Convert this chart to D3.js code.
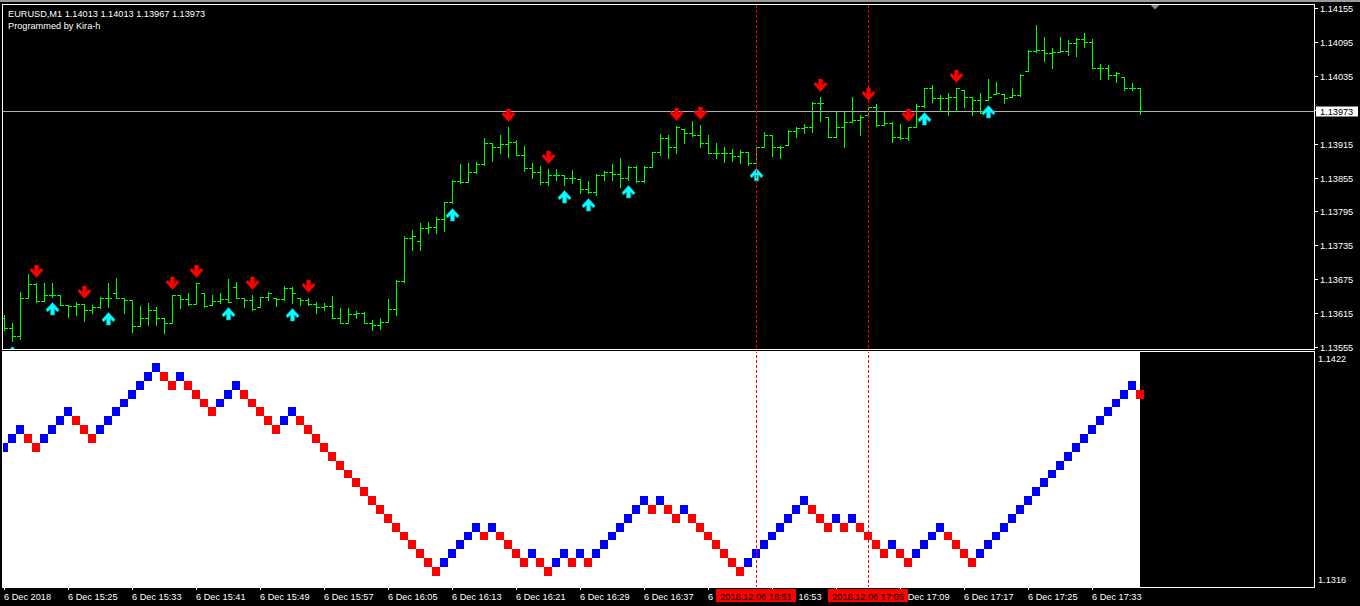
<!DOCTYPE html>
<html><head><meta charset="utf-8">
<script src="https://cdn.jsdelivr.net/npm/d3@7"></script>
<style>html,body{margin:0;padding:0;background:#000;overflow:hidden}svg{display:block}</style>
</head><body><svg id="c" width="1360" height="606"></svg>
<script>
// ---------- DATA ----------
const symbolTitle = "EURUSD,M1  1.14013 1.14013 1.13967 1.13973";
const subTitle = "Programmed by Kira-h";
const opens = [1.13606,1.13588,1.13574,1.13641,1.13666,1.13636,1.13647,1.13647,1.13629,1.13627,1.13631,1.13620,1.13626,1.13641,1.13650,1.13641,1.13638,1.13592,1.13606,1.13620,
1.13606,1.13597,1.13647,1.13640,1.13631,1.13650,1.13629,1.13636,1.13640,1.13660,1.13641,1.13638,1.13626,1.13643,1.13641,1.13640,1.13659,1.13641,1.13638,1.13631,
1.13626,1.13627,1.13606,1.13597,1.13613,1.13615,1.13597,1.13594,1.13599,1.13622,1.13672,1.13748,1.13742,1.13765,1.13767,1.13781,1.13811,1.13849,1.13847,1.13865,
1.13879,1.13916,1.13909,1.13914,1.13918,1.13895,1.13872,1.13865,1.13847,1.13859,1.13859,1.13854,1.13852,1.13834,1.13829,1.13859,1.13865,1.13861,1.13854,1.13873,
1.13849,1.13873,1.13900,1.13925,1.13909,1.13941,1.13934,1.13930,1.13916,1.13898,1.13898,1.13898,1.13893,1.13900,1.13880,1.13909,1.13930,1.13909,1.13912,1.13937,
1.13942,1.13944,1.13987,1.13962,1.13927,1.13944,1.13953,1.13957,1.13965,1.13980,1.13948,1.13951,1.13927,1.13925,1.13944,1.13981,1.14013,1.13996,1.13996,1.13997,
1.14011,1.13997,1.13992,1.13992,1.14003,1.14003,1.13997,1.14001,1.14043,1.14079,1.14081,1.14075,1.14077,1.14079,1.14093,1.14100,1.14096,1.14049,1.14049,1.14036,
1.14033,1.14013,1.14013];
const highs = [1.13611,1.13597,1.13652,1.13684,1.13668,1.13668,1.13668,1.13647,1.13629,1.13634,1.13631,1.13629,1.13643,1.13668,1.13677,1.13641,1.13638,1.13627,1.13633,1.13626,
1.13606,1.13647,1.13647,1.13650,1.13668,1.13650,1.13647,1.13650,1.13675,1.13670,1.13641,1.13647,1.13643,1.13652,1.13641,1.13663,1.13661,1.13641,1.13641,1.13634,
1.13633,1.13645,1.13624,1.13624,1.13618,1.13617,1.13603,1.13606,1.13640,1.13673,1.13751,1.13762,1.13774,1.13776,1.13785,1.13811,1.13850,1.13879,1.13880,1.13882,
1.13925,1.13916,1.13930,1.13944,1.13921,1.13911,1.13880,1.13875,1.13870,1.13870,1.13859,1.13868,1.13852,1.13849,1.13861,1.13866,1.13879,1.13889,1.13875,1.13875,
1.13875,1.13900,1.13932,1.13930,1.13946,1.13941,1.13955,1.13948,1.13930,1.13916,1.13909,1.13905,1.13903,1.13900,1.13909,1.13935,1.13930,1.13911,1.13939,1.13944,
1.13950,1.13988,1.13997,1.13962,1.13971,1.13971,1.13997,1.13965,1.13981,1.13985,1.13971,1.13953,1.13950,1.13944,1.13985,1.14013,1.14019,1.14001,1.14004,1.14013,
1.14011,1.13997,1.14004,1.14029,1.14024,1.14003,1.14013,1.14038,1.14081,1.14125,1.14104,1.14084,1.14104,1.14098,1.14102,1.14112,1.14100,1.14057,1.14054,1.14042,
1.14033,1.14022,1.14013];
const lows = [1.13585,1.13565,1.13569,1.13641,1.13634,1.13636,1.13643,1.13629,1.13608,1.13611,1.13601,1.13615,1.13624,1.13626,1.13641,1.13615,1.13581,1.13592,1.13594,1.13594,
1.13580,1.13597,1.13624,1.13629,1.13631,1.13626,1.13629,1.13633,1.13634,1.13641,1.13626,1.13620,1.13626,1.13638,1.13627,1.13638,1.13633,1.13629,1.13629,1.13615,
1.13620,1.13606,1.13597,1.13597,1.13606,1.13597,1.13585,1.13587,1.13599,1.13611,1.13670,1.13727,1.13727,1.13757,1.13757,1.13760,1.13810,1.13845,1.13847,1.13863,
1.13877,1.13884,1.13898,1.13891,1.13895,1.13866,1.13854,1.13843,1.13841,1.13850,1.13841,1.13845,1.13827,1.13827,1.13824,1.13850,1.13850,1.13838,1.13850,1.13847,
1.13847,1.13873,1.13895,1.13889,1.13898,1.13916,1.13928,1.13909,1.13898,1.13889,1.13882,1.13884,1.13880,1.13877,1.13880,1.13909,1.13893,1.13889,1.13912,1.13927,
1.13934,1.13935,1.13955,1.13927,1.13927,1.13909,1.13953,1.13930,1.13965,1.13946,1.13948,1.13918,1.13923,1.13921,1.13944,1.13980,1.13988,1.13973,1.13965,1.13973,
1.13980,1.13965,1.13969,1.13992,1.14003,1.13987,1.13997,1.13999,1.14043,1.14077,1.14061,1.14050,1.14077,1.14073,1.14070,1.14086,1.14049,1.14029,1.14029,1.14024,
1.14011,1.14010,1.13967];
const closes = [1.13588,1.13574,1.13641,1.13666,1.13636,1.13647,1.13647,1.13629,1.13627,1.13631,1.13620,1.13626,1.13641,1.13641,1.13641,1.13638,1.13592,1.13606,1.13620,1.13606,
1.13597,1.13647,1.13640,1.13631,1.13668,1.13627,1.13636,1.13640,1.13634,1.13641,1.13638,1.13622,1.13643,1.13650,1.13640,1.13659,1.13650,1.13638,1.13631,1.13626,
1.13627,1.13606,1.13597,1.13613,1.13615,1.13597,1.13594,1.13599,1.13622,1.13672,1.13748,1.13751,1.13765,1.13767,1.13781,1.13811,1.13849,1.13847,1.13865,1.13879,
1.13916,1.13909,1.13914,1.13918,1.13895,1.13872,1.13865,1.13847,1.13859,1.13859,1.13854,1.13854,1.13834,1.13829,1.13859,1.13865,1.13861,1.13854,1.13873,1.13849,
1.13873,1.13900,1.13925,1.13909,1.13944,1.13934,1.13930,1.13916,1.13898,1.13898,1.13898,1.13893,1.13900,1.13880,1.13909,1.13930,1.13909,1.13909,1.13937,1.13942,
1.13944,1.13987,1.13987,1.13927,1.13944,1.13953,1.13957,1.13962,1.13980,1.13948,1.13951,1.13927,1.13925,1.13944,1.13981,1.14013,1.13996,1.13996,1.13997,1.14013,
1.13997,1.13992,1.13969,1.13997,1.14004,1.13996,1.14001,1.14036,1.14079,1.14081,1.14075,1.14077,1.14079,1.14093,1.14100,1.14096,1.14049,1.14049,1.14036,1.14040,
1.14013,1.14013,1.13973];
const sellSignals = [4,10,21,24,31,38,63,68,84,87,102,108,113,119];
const buySignals = [1,6,13,28,36,56,70,73,78,94,115,123];
const currentPrice = 1.13973;
const priceTicks = [1.14155,1.14095,1.14035,1.13975,1.13915,1.13855,1.13795,1.13735,1.13675,1.13615,1.13555];
const timeTickIdx = [0,8,16,24,32,40,48,56,64,72,80,88,96,104,112,120,128,136];
const timeTickLabels = ["6 Dec 2018","6 Dec 15:25","6 Dec 15:33","6 Dec 15:41","6 Dec 15:49","6 Dec 15:57","6 Dec 16:05","6 Dec 16:13","6 Dec 16:21","6 Dec 16:29","6 Dec 16:37","6 Dec 16:45","6 Dec 16:53","6 Dec 17:01","6 Dec 17:09","6 Dec 17:17","6 Dec 17:25","6 Dec 17:33"];
const markerIdx = [94,108];
const markerLabels = ["2018.12.06 16:51","2018.12.06 17:05"];
const renkoBrick = 0.0004;
const renkoLow = [1.1377,1.1381,1.1385,1.1381,1.1377,1.1381,1.1385,1.1389,1.1393,1.1389,1.1385,1.1381,1.1385,1.1389,1.1393,1.1397,1.1401,1.1405,1.1409,1.1413,1.1409,1.1405,1.1409,1.1405,1.1401,1.1397,1.1393,1.1397,1.1401,1.1405,1.1401,1.1397,1.1393,1.1389,1.1385,1.1389,1.1393,1.1389,
1.1385,1.1381,1.1377,1.1373,1.1369,1.1365,1.1361,1.1357,1.1353,1.1349,1.1345,1.1341,1.1337,1.1333,1.1329,1.1325,1.1321,
1.1325,1.1329,1.1333,1.1337,1.1341,1.1337,1.1341,1.1337,1.1333,1.1329,1.1325,1.1329,1.1325,1.1321,
1.1325,1.1329,1.1325,1.1329,1.1325,1.1329,1.1333,1.1337,1.1341,1.1345,1.1349,1.1353,1.1349,1.1353,1.1349,1.1345,
1.1349,1.1345,1.1341,1.1337,1.1333,1.1329,1.1325,1.1321,1.1325,1.1329,1.1333,1.1337,1.1341,1.1345,1.1349,1.1353,1.1349,1.1345,1.1341,1.1345,1.1341,1.1345,1.1341,1.1337,1.1333,1.1329,1.1333,1.1329,1.1325,1.1329,1.1333,1.1337,1.1341,1.1337,1.1333,1.1329,1.1325,
1.1329,1.1333,1.1337,1.1341,1.1345,1.1349,1.1353,1.1357,1.1361,1.1365,1.1369,1.1373,1.1377,1.1381,1.1385,1.1389,1.1393,1.1397,1.1401,1.1405,1.1401];
const renkoMax = 1.1422, renkoMin = 1.1316;

// ---------- DRAW ----------
const FONT = "'Liberation Sans', Arial, sans-serif";
const FS = "9.2px";
const svg = d3.select("#c");
svg.append("rect").attr("width",1360).attr("height",606).attr("fill","#000");
svg.append("rect").attr("x",0).attr("y",0).attr("width",1360).attr("height",2).attr("fill","#9a9a9a");

const n = closes.length;
const x = d3.scaleLinear().domain([0, n-1]).range([4, 4 + 8*(n-1)]);
const y = d3.scaleLinear().domain([1.13555, 1.14155]).range([346.7, 8.3]);
const yR = d3.scaleLinear().domain([renkoMin, renkoMax]).range([587, 352]);

const defs = svg.append("defs");
defs.append("clipPath").attr("id","cpTop").append("rect").attr("x",3).attr("y",5).attr("width",1311).attr("height",344);
defs.append("clipPath").attr("id","cpBot").append("rect").attr("x",3).attr("y",352).attr("width",1311).attr("height",235);

// lower panel background
svg.append("rect").attr("x",3).attr("y",352).attr("width",x(n-1)-3).attr("height",235).attr("fill","#fff");

// current price line
svg.append("line").attr("x1",3).attr("x2",1314).attr("y1",Math.round(y(currentPrice))+0.5).attr("y2",Math.round(y(currentPrice))+0.5)
  .attr("stroke","#b0b0b0").attr("stroke-width",1);

// bars
const gBars = svg.append("g").attr("clip-path","url(#cpTop)").attr("shape-rendering","crispEdges").attr("fill","#00ff00");
d3.range(n).forEach(i=>{
  const xi = Math.round(x(i));
  const yh = Math.round(y(highs[i])), yl = Math.round(y(lows[i]));
  gBars.append("rect").attr("x",xi).attr("y",yh).attr("width",1).attr("height",Math.max(1,yl-yh+1));
  gBars.append("rect").attr("x",xi-3).attr("y",Math.round(y(opens[i]))).attr("width",3).attr("height",1);
  gBars.append("rect").attr("x",xi+1).attr("y",Math.round(y(closes[i]))).attr("width",3).attr("height",1);
});

// arrows
function downArrow(cx, y0){
  return `M${cx-2},${y0}L${cx+2},${y0}L${cx+2},${y0+6}L${cx+5},${y0+3}L${cx+6.5},${y0+5.5}L${cx},${y0+12.5}L${cx-6.5},${y0+5.5}L${cx-5},${y0+3}L${cx-2},${y0+6}Z`;
}
function upArrow(cx, y0){
  return `M${cx-2},${y0+13}L${cx+2},${y0+13}L${cx+2},${y0+7}L${cx+5},${y0+10}L${cx+6.5},${y0+7.5}L${cx},${y0+0.5}L${cx-6.5},${y0+7.5}L${cx-5},${y0+10}L${cx-2},${y0+7}Z`;
}
const gArr = svg.append("g").attr("clip-path","url(#cpTop)");
gArr.selectAll("path.sell").data(sellSignals).join("path").attr("class","sell")
  .attr("d", i => downArrow(Math.round(x(i))+0.5, Math.round(y(highs[i])) - 18))
  .attr("fill","#ff0000").attr("stroke","#c00000").attr("stroke-width",0.6);
gArr.selectAll("path.buy").data(buySignals).join("path").attr("class","buy")
  .attr("d", i => upArrow(Math.round(x(i))+0.5, Math.round(y(lows[i])) + 5))
  .attr("fill","#00ffff").attr("stroke","#00b0c0").attr("stroke-width",0.6);

// renko bricks
const gR = svg.append("g").attr("clip-path","url(#cpBot)").attr("shape-rendering","crispEdges");
renkoLow.forEach((lo,i)=>{
  const up = i===0 || lo > renkoLow[i-1];
  const yt = Math.round(yR(lo + renkoBrick)), yb = Math.round(yR(lo));
  gR.append("rect").attr("x",Math.round(x(i))-4).attr("y",yt).attr("width",8).attr("height",yb-yt)
    .attr("fill", up ? "#0000ff" : "#ff0000");
});

// marker dashed lines
markerIdx.forEach(i=>{
  svg.append("line").attr("x1",Math.round(x(i))+0.5).attr("x2",Math.round(x(i))+0.5).attr("y1",5).attr("y2",587)
    .attr("stroke","#ff0000").attr("stroke-width",1).attr("stroke-dasharray","3,2");
});

// borders
const gB = svg.append("g").attr("fill","#fff").attr("shape-rendering","crispEdges");
gB.append("rect").attr("x",2).attr("y",4).attr("width",1313).attr("height",1);
gB.append("rect").attr("x",2).attr("y",349).attr("width",1313).attr("height",1);
gB.append("rect").attr("x",2).attr("y",4).attr("width",1).attr("height",346);
gB.append("rect").attr("x",1314).attr("y",4).attr("width",1).attr("height",346);
gB.append("rect").attr("x",2).attr("y",351).attr("width",1313).attr("height",1);
gB.append("rect").attr("x",2).attr("y",587).attr("width",1313).attr("height",1);
gB.append("rect").attr("x",2).attr("y",351).attr("width",1).attr("height",237);
gB.append("rect").attr("x",1314).attr("y",351).attr("width",1).attr("height",237);

// chart shift triangle
svg.append("path").attr("d","M1150.5,5 L1159.5,5 L1155,9.5 Z").attr("fill","#8a8a8a");

// title texts
svg.append("text").attr("x",8).attr("y",16.5).attr("fill","#fff").attr("font-family",FONT).attr("font-size",FS).text(symbolTitle);
svg.append("text").attr("x",8).attr("y",28.5).attr("fill","#fff").attr("font-family",FONT).attr("font-size",FS).text(subTitle);

// right price axis
const gY = svg.append("g");
priceTicks.forEach(p=>{
  const yy = Math.round(y(p));
  gY.append("rect").attr("x",1315).attr("y",yy).attr("width",3).attr("height",1).attr("fill","#fff");
  if (Math.abs(p - currentPrice) > 0.0001)
    gY.append("text").attr("x",1320).attr("y",yy+3.6).attr("fill","#fff").attr("font-family",FONT).attr("font-size",FS).text(p.toFixed(5));
});
const yc = Math.round(y(currentPrice));
svg.append("rect").attr("x",1316).attr("y",yc-4.5).attr("width",42).attr("height",10).attr("fill","#fff");
svg.append("text").attr("x",1320).attr("y",yc+4).attr("fill","#000").attr("font-family",FONT).attr("font-size",FS).text(currentPrice.toFixed(5));

// lower panel labels
svg.append("text").attr("x",1318).attr("y",361.5).attr("fill","#fff").attr("font-family",FONT).attr("font-size",FS).text(renkoMax.toFixed(4));
svg.append("text").attr("x",1318).attr("y",583.3).attr("fill","#fff").attr("font-family",FONT).attr("font-size",FS).text(renkoMin.toFixed(4));

// time axis (labels partly hidden by the red marker boxes keep only their visible part)
const boxes = markerIdx.map(i => [Math.round(x(i))-40, Math.round(x(i))+40]);
const gX = svg.append("g");
timeTickIdx.forEach((i,k)=>{
  const xi = Math.round(x(i));
  gX.append("rect").attr("x",xi).attr("y",588).attr("width",1).attr("height",2).attr("fill","#fff");
  const t = gX.append("text").attr("x",xi).attr("y",600).attr("fill","#fff").attr("font-family",FONT).attr("font-size",FS).text(timeTickLabels[k]);
  const node = t.node();
  const str = timeTickLabels[k];
  const vis = [];
  for (let c=0;c<str.length;c++){
    const s = node.getStartPositionOfChar(c).x, e = node.getEndPositionOfChar(c).x;
    const hidden = boxes.some(b => e > b[0]+0.5 && s < b[1]-0.5);
    vis.push(!hidden);
  }
  if (vis.every(v=>v)) return;
  // keep the longest visible run
  let best=null, cur=null;
  for (let c=0;c<=str.length;c++){
    if (c<str.length && vis[c]) { if(cur===null) cur=c; }
    else if (cur!==null){ if(!best || c-cur > best[1]-best[0]) best=[cur,c]; cur=null; }
  }
  if (!best){ t.remove(); return; }
  let a=best[0], b=best[1];
  while (a<b && str[a]===" ") a++;
  while (b>a && str[b-1]===" ") b--;
  if (a>=b){ t.remove(); return; }
  const sx = node.getStartPositionOfChar(a).x;
  t.attr("x", sx).text(str.slice(a,b));
});
markerIdx.forEach((i,k)=>{
  const xi = Math.round(x(i));
  svg.append("rect").attr("x",xi-40).attr("y",589).attr("width",80).attr("height",13).attr("fill","#ff0000");
  svg.append("text").attr("x",xi).attr("y",600).attr("text-anchor","middle").attr("fill","#000").attr("font-family",FONT).attr("font-size",FS).text(markerLabels[k]);
});
</script></body></html>
